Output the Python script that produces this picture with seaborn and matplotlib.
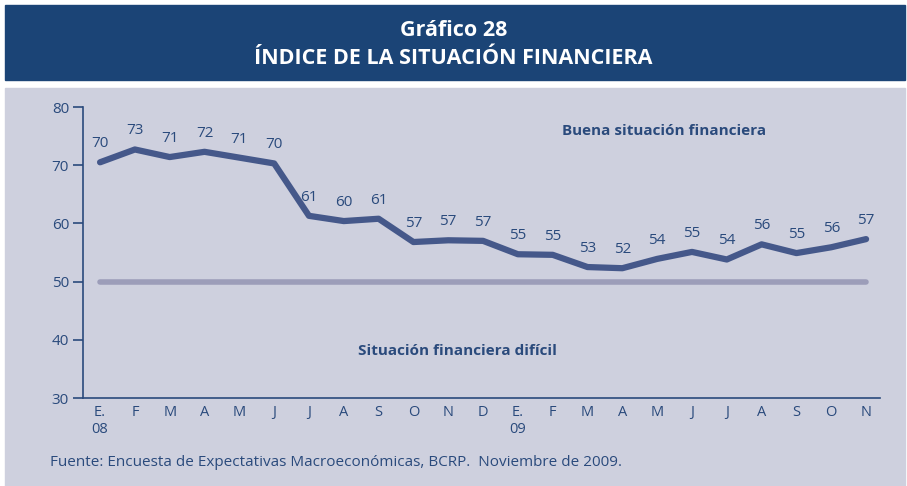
import matplotlib
matplotlib.use("Agg")
import matplotlib.pyplot as plt
import seaborn as sns
import pandas as pd
from matplotlib.patches import Rectangle

# Data
months = ["E.\n08", "F", "M", "A", "M", "J", "J", "A", "S", "O", "N", "D",
          "E.\n09", "F", "M", "A", "M", "J", "J", "A", "S", "O", "N"]
values = [70.5, 72.7, 71.4, 72.3, 71.3, 70.3, 61.3, 60.4, 60.8, 56.8, 57.1, 57.0,
          54.7, 54.6, 52.5, 52.3, 53.9, 55.1, 53.8, 56.4, 54.9, 55.9, 57.3]
labels = [70, 73, 71, 72, 71, 70, 61, 60, 61, 57, 57, 57,
          55, 55, 53, 52, 54, 55, 54, 56, 55, 56, 57]
threshold = 50

# Colors
BANNER = "#1B4476"
PANEL = "#CED0DE"
LINE = "#45588A"
REF = "#9C9DB9"
TEXT = "#2A4A7C"

sns.set_theme(style="white")
plt.rcParams['font.family'] = ['Open Sans', 'DejaVu Sans']

df = pd.DataFrame({"idx": range(len(values)), "valor": values})

fig = plt.figure(figsize=(9.07, 4.86), dpi=100)
fig.patch.set_facecolor("white")
fig.patches.append(Rectangle((5 / 907, 1 - 80 / 486), 900 / 907, 75 / 486,
                             transform=fig.transFigure, color=BANNER, zorder=-10))
fig.patches.append(Rectangle((5 / 907, 0), 900 / 907, 1 - 88 / 486,
                             transform=fig.transFigure, color=PANEL, zorder=-10))

fig.text(0.5, 1 - 30 / 486, "Gráfico 28", ha="center", va="center", color="white",
         fontsize=15.5, fontweight="bold")
fig.text(0.5, 1 - 58 / 486, "ÍNDICE DE LA SITUACIÓN FINANCIERA", ha="center", va="center",
         color="white", fontsize=15.5, fontweight="bold")

ax = fig.add_axes([83 / 907, 1 - 398 / 486, (880 - 83) / 907, (398 - 107) / 486])
ax.set_facecolor("none")

# threshold line across the data range
ax.plot([0, len(values) - 1], [threshold, threshold], color=REF, lw=4,
        solid_capstyle="round", zorder=1)
sns.lineplot(data=df, x="idx", y="valor", ax=ax, color=LINE, lw=4.5, zorder=2)

for i, (v, lab) in enumerate(zip(values, labels)):
    ax.annotate(str(lab), (i, v), xytext=(0, 8), textcoords="offset points",
                ha="center", va="bottom", color=TEXT, fontsize=11)

ax.text(16.2, 75.9, "Buena situación financiera", ha="center", va="center",
        color=TEXT, fontsize=11, fontweight="bold")
ax.text(10.25, 38.1, "Situación financiera difícil", ha="center", va="center",
        color=TEXT, fontsize=11, fontweight="bold")

ax.set_xlim(-0.49, 22.4)
ax.set_ylim(30, 80)
ax.set_yticks(range(30, 81, 10))
ax.set_xticks(range(len(months)))
ax.set_xticklabels(months, color=TEXT, fontsize=10.5, linespacing=1.15, va="top")
ax.tick_params(axis="x", length=0, pad=5)
ax.tick_params(axis="y", length=7, width=1.2, color=TEXT, labelcolor=TEXT,
               labelsize=11, direction="out", pad=3, left=True)
ax.set_xlabel("")
ax.set_ylabel("")
for side in ["top", "right"]:
    ax.spines[side].set_visible(False)
for side in ["left", "bottom"]:
    ax.spines[side].set_color(TEXT)
    ax.spines[side].set_linewidth(1.2)

fig.text(50 / 907, 1 - 462 / 486,
         "Fuente: Encuesta de Expectativas Macroeconómicas, BCRP.  Noviembre de 2009.",
         ha="left", va="center", color=TEXT, fontsize=11)

fig.savefig("out.png", dpi=100)
